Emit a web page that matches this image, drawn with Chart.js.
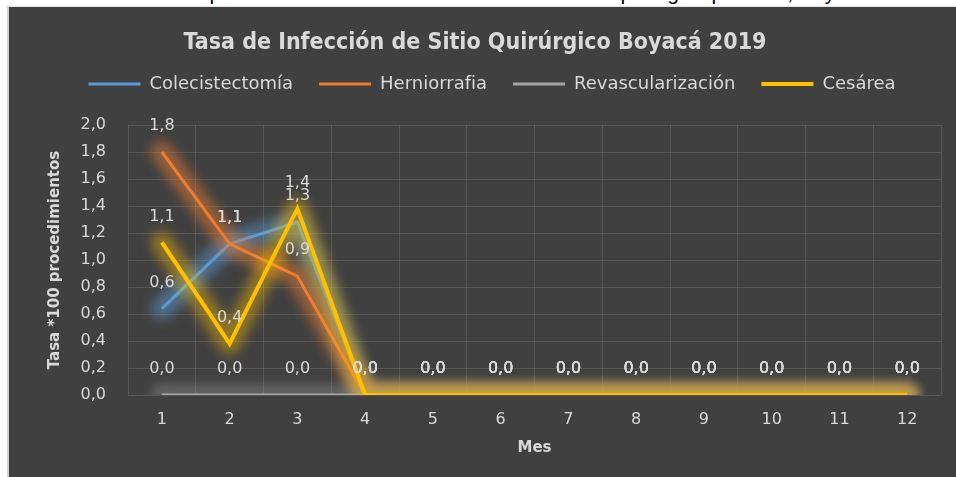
<!DOCTYPE html>
<html lang="es">
<head>
<meta charset="utf-8">
<title>Tasa de Infección de Sitio Quirúrgico Boyacá 2019</title>
<script src="https://cdn.jsdelivr.net/npm/chart.js@4.4.1/dist/chart.umd.min.js"></script>
<style>
  html, body { margin: 0; padding: 0; background: #fff; overflow: hidden; }
  #caption {
    position: absolute; left: 0; top: -19px; width: 990px;
    text-align: center; white-space: nowrap; color: #000;
    font: 21px "Liberation Sans", Arial, sans-serif;
  }
  #frame {
    position: absolute; left: 7px; top: 6px; width: 949px; height: 471px;
    box-sizing: border-box; background: #404040;
    border-left: 2px solid #d4d4d4; border-top: 1px solid #e4e4e4;
  }
  #frame canvas { display: block; }
</style>
</head>
<body>
<div id="caption">Gráfica 4. Comportamiento de la tasa de infección de sitio quirúrgico por mes, Boyacá 2019</div>
<div id="frame"><canvas id="isoChart" width="947" height="470"></canvas></div>
<script>
// datos (tasa por 100 procedimientos)
const meses = ['1', '2', '3', '4', '5', '6', '7', '8', '9', '10', '11', '12'];
const colecistectomia = [0.64, 1.12, 1.28, 0, 0, 0, 0, 0, 0, 0, 0, 0];
const herniorrafia = [1.80, 1.12, 0.88, 0, 0, 0, 0, 0, 0, 0, 0, 0];
const revascularizacion = [0, 0, 0, 0, 0, 0, 0, 0, 0, 0, 0, 0];
const cesarea = [1.13, 0.38, 1.38, 0, 0, 0, 0, 0, 0, 0, 0, 0];

const textColor = '#d9d9d9';
const tickFont = { family: '"DejaVu Sans", sans-serif', size: 16 };

const fmt = v => Number(v).toFixed(1).replace('.', ',');

// halo difuso alrededor de cada linea (como el "resplandor" de Excel)
const glowPlugin = {
    id: 'glow',
    beforeDatasetDraw(chart, args) {
        const ds = chart.data.datasets[args.index];
        const pts = chart.getDatasetMeta(args.index).data;
        const area = chart.chartArea;
        const ctx = chart.ctx;
        if (!pts.length) return;
        ctx.save();
        ctx.beginPath();
        ctx.rect(area.left, area.top - 30, area.right - area.left + 20, area.bottom - area.top + 30);
        ctx.clip();
        ctx.filter = 'blur(6px)';
        ctx.strokeStyle = ds.glowColor;
        ctx.lineWidth = 22;
        ctx.lineJoin = 'round';
        ctx.lineCap = 'round';
        ctx.beginPath();
        ctx.moveTo(pts[0].x, pts[0].y);
        for (let i = 1; i < pts.length; i++) ctx.lineTo(pts[i].x, pts[i].y);
        ctx.stroke();
        ctx.restore();
    }
};

// etiquetas de valor encima de cada punto
const valueLabels = {
    id: 'valueLabels',
    afterDatasetsDraw(chart) {
        const ctx = chart.ctx;
        ctx.save();
        ctx.font = '16px "DejaVu Sans", sans-serif';
        ctx.fillStyle = textColor;
        ctx.textAlign = 'center';
        ctx.textBaseline = 'middle';
        chart.data.datasets.forEach((ds, i) => {
            const meta = chart.getDatasetMeta(i);
            meta.data.forEach((pt, j) => {
                ctx.fillText(fmt(ds.data[j]), pt.x, pt.y - 26);
            });
        });
        ctx.restore();
    }
};

// la leyenda de Excel queda un poco corrida a la derecha
const legendShift = {
    id: 'legendShift',
    afterLayout(chart) {
        if (chart.legend) {
            chart.legend.left += 17;
            chart.legend.right += 17;
        }
    }
};

function serie(label, data, color, glow, width, order) {
    return {
        label: label,
        data: data,
        borderColor: color,
        backgroundColor: color,
        borderWidth: width,
        glowColor: glow,
        pointRadius: 0,
        tension: 0,
        order: order
    };
}

const config = {
    type: 'line',
    data: {
        labels: meses,
        datasets: [
            serie('Colecistectomía', colecistectomia, '#5B9BD5', 'rgba(91,155,213,0.5)', 3, 3),
            serie('Herniorrafia', herniorrafia, '#ED7D31', 'rgba(237,125,49,0.5)', 3, 2),
            serie('Revascularización', revascularizacion, '#A5A5A5', 'rgba(165,165,165,0.35)', 3, 1),
            serie('Cesárea', cesarea, '#FFC000', 'rgba(255,192,0,0.42)', 4, 0)
        ]
    },
    options: {
        responsive: false,
        animation: false,
        layout: { padding: { left: 0, right: 15, top: 0, bottom: 0 } },
        plugins: {
            title: {
                display: true,
                text: 'Tasa de Infección de Sitio Quirúrgico Boyacá 2019',
                color: textColor,
                font: { family: '"DejaVu Sans Condensed", "DejaVu Sans", sans-serif', size: 23, weight: 'bold', lineHeight: 1 },
                padding: { top: 25, bottom: -6 }
            },
            subtitle: {
                // solo deja espacio entre la leyenda y el area de trazado
                display: true,
                text: ' ',
                color: 'rgba(0,0,0,0)',
                font: { size: 10 },
                padding: { top: 10, bottom: 0 },
                position: 'top',
                weight: 500
            },
            legend: {
                position: 'top',
                labels: {
                    color: textColor,
                    font: { family: '"DejaVu Sans", sans-serif', size: 18 },
                    usePointStyle: true,
                    pointStyle: 'line',
                    pointStyleWidth: 52,
                    padding: 26,
                    sort: (a, b) => a.datasetIndex - b.datasetIndex
                }
            },
            tooltip: { enabled: false }
        },
        scales: {
            x: {
                offset: true,
                grid: { offset: true, color: 'rgba(255,255,255,0.12)', drawTicks: false },
                border: { display: false },
                ticks: { color: textColor, font: tickFont, padding: 15, maxRotation: 0 },
                title: {
                    display: true,
                    text: 'Mes',
                    color: textColor,
                    font: { family: '"DejaVu Sans", sans-serif', size: 15, weight: 'bold' },
                    padding: { top: 10, bottom: 20 }
                },
                afterFit: s => { s.height = 82; }
            },
            y: {
                min: 0,
                max: 2,
                grid: { color: 'rgba(255,255,255,0.12)', drawTicks: false },
                border: { display: false },
                ticks: { stepSize: 0.2, color: textColor, font: tickFont, padding: 22, callback: v => fmt(v) },
                title: {
                    display: true,
                    text: 'Tasa *100 procedimientos',
                    color: textColor,
                    font: { family: '"DejaVu Sans", sans-serif', size: 15, weight: 'bold' },
                    padding: { top: 37, bottom: 4 }
                },
                afterFit: s => { s.width = 119; }
            }
        }
    },
    plugins: [glowPlugin, valueLabels, legendShift]
};

try {
    new Chart(document.getElementById('isoChart'), config);
} catch (error) {
    console.error(error.message);
}
</script>
</body>
</html>
